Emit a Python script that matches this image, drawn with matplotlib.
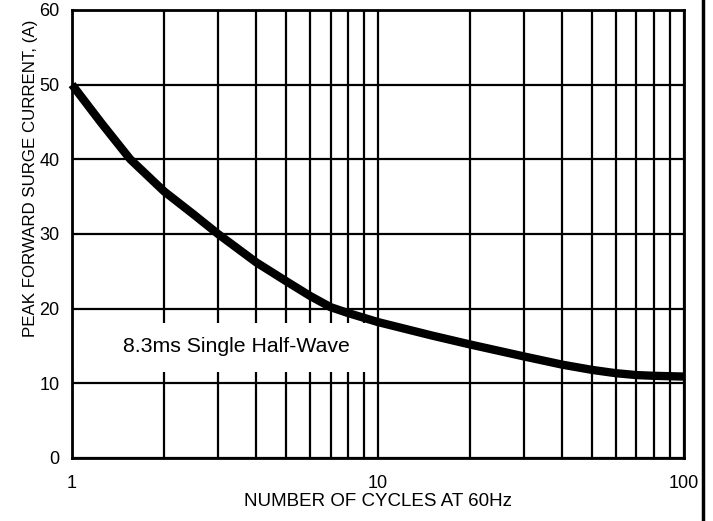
import matplotlib
matplotlib.use("Agg")
import matplotlib.pyplot as plt
from matplotlib.patches import Rectangle
from matplotlib.lines import Line2D

plt.rcParams['font.family'] = ['Liberation Sans', 'DejaVu Sans']

# curve
cycles = [1, 1.25, 1.55, 2, 2.5, 3, 4, 5, 6, 7, 8, 10, 15, 20, 30, 40, 50, 60, 70, 80, 100]
current = [50, 44.8, 40, 35.7, 32.6, 30.0, 26.2, 23.7, 21.7, 20.2, 19.4, 18.2, 16.4, 15.2, 13.6, 12.5, 11.8, 11.35, 11.1, 11.0, 10.9]

x_ticks = [1, 10, 100]
y_ticks = [0, 10, 20, 30, 40, 50, 60]

fig = plt.figure(figsize=(7.13, 5.21), dpi=100)
ax = fig.add_axes([0.101, 0.121, 0.858, 0.860])

ax.set_xscale('log')
ax.set_xlim(1, 100)
ax.set_ylim(0, 60)
ax.set_axisbelow(True)

ax.grid(True, which='both', color='black', linewidth=1.6)
ax.set_xticks(x_ticks)
ax.set_xticklabels([str(t) for t in x_ticks])
ax.set_yticks(y_ticks)
ax.tick_params(which='both', length=0, labelsize=13)
ax.tick_params(axis='x', pad=12)
ax.tick_params(axis='y', pad=9)
for s in ax.spines.values():
    s.set_linewidth(2)

# label box covering the grid
ax.add_patch(Rectangle((1.0, 11.5), 8.6, 6.6, facecolor='white', edgecolor='none', zorder=1))
ax.text(3.45, 14.9, '8.3ms Single Half-Wave', fontsize=15.3, ha='center', va='center', zorder=3)

ax.plot(cycles, current, color='black', linewidth=6, solid_capstyle='butt',
        solid_joinstyle='round', zorder=2, clip_on=False)

ax.set_xlabel('NUMBER OF CYCLES AT 60Hz', fontsize=13.5, labelpad=1)
ax.set_ylabel('PEAK FORWARD SURGE CURRENT, (A)', fontsize=12.2)
ax.yaxis.set_label_coords(-0.056, 0.625)

fig.add_artist(Line2D([0.986, 0.986], [0, 1], color='black', linewidth=2.5, transform=fig.transFigure))

fig.savefig('out.png', dpi=100)
